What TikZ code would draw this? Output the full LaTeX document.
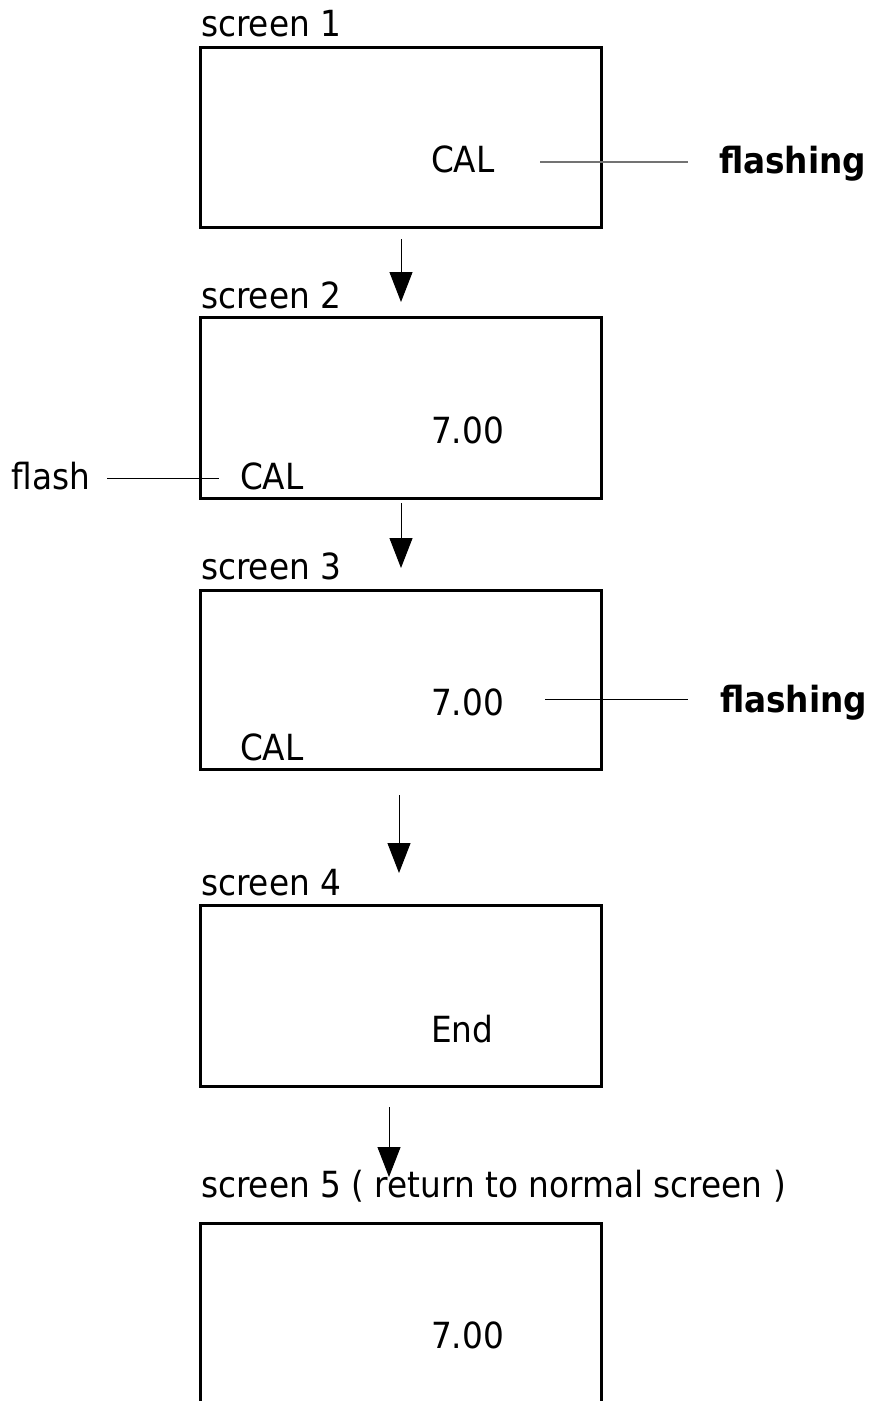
\documentclass[tikz,border=0pt]{standalone}
\usepackage{fontspec}
\setmainfont[FakeStretch=0.91]{DejaVu Sans}
\usetikzlibrary{arrows.meta}
\tikzset{
  screenbox/.style={draw, line width=3pt, minimum width=401pt, inner sep=0pt, outer sep=0pt},
  txt/.style={anchor=base west, inner sep=0pt, outer sep=0pt, font=\fontsize{36}{43}\selectfont},
  boldtxt/.style={txt, font=\fontsize{36}{43}\selectfont\bfseries},
  flow/.style={line width=1pt, -{Triangle[width=23pt,length=30pt]}},
  leader/.style={line width=1pt},
  greyleader/.style={line width=1.3pt, draw=black!55}
}
\begin{document}
\begin{tikzpicture}[x=1pt,y=-1pt]
\useasboundingbox (0,0) rectangle (874,1401);
\clip (0,0) rectangle (874,1401);

% screen 1
\node[txt] (l1) at (201,36) {screen 1};
\node[screenbox, minimum height=180pt] (b1) at (400.5,137) {};
\node[txt] (cal1) at (431,172) {CAL};
\node[boldtxt] (fl1) at (719,173) {flashing};
\coordinate (ld1s) at (540,162);
\coordinate (ld1e) at (688,162);
\draw[greyleader] (ld1s) -- (ld1e);

% arrow 1
\coordinate (a1s) at (401,239);
\coordinate (a1e) at (401,302);
\draw[flow] (a1s) -- (a1e);

% screen 2
\node[txt] (l2) at (201,308) {screen 2};
\node[screenbox, minimum height=181pt] (b2) at (400.5,407.5) {};
\node[txt] (v2) at (431,443) {7.00};
\node[txt] (cal2) at (240,489) {CAL};
\node[txt] (fl2) at (11.5,489) {flash};
\coordinate (ld2s) at (107,478);
\coordinate (ld2e) at (219,478);
\draw[leader] (ld2s) -- (ld2e);

% arrow 2
\coordinate (a2s) at (401,503);
\coordinate (a2e) at (401,568);
\draw[flow] (a2s) -- (a2e);

% screen 3
\node[txt] (l3) at (201,579) {screen 3};
\node[screenbox, minimum height=179pt] (b3) at (400.5,679.5) {};
\node[txt] (v3) at (431,715) {7.00};
\node[txt] (cal3) at (240,760) {CAL};
\node[boldtxt] (fl3) at (720,712) {flashing};
\coordinate (ld3s) at (545,699);
\coordinate (ld3e) at (688,699);
\draw[leader] (ld3s) -- (ld3e);

% arrow 3
\coordinate (a3s) at (399,795);
\coordinate (a3e) at (399,873);
\draw[flow] (a3s) -- (a3e);

% screen 4
\node[txt] (l4) at (201,895) {screen 4};
\node[screenbox, minimum height=181pt] (b4) at (400.5,995.5) {};
\node[txt] (v4) at (431,1042) {End};

% arrow 4
\coordinate (a4s) at (389,1107);
\coordinate (a4e) at (389,1177);
\draw[flow] (a4s) -- (a4e);

% screen 5
\node[txt] (l5) at (201,1197) {screen 5 ( return to normal screen )};
\coordinate (b5bl) at (200,1410);
\coordinate (b5tl) at (200,1223);
\coordinate (b5tr) at (601,1223);
\coordinate (b5br) at (601,1410);
\draw[line width=3pt] (b5bl) -- (b5tl) -- (b5tr) -- (b5br);
\node[txt] (v5) at (431,1348) {7.00};
\end{tikzpicture}
\end{document}
